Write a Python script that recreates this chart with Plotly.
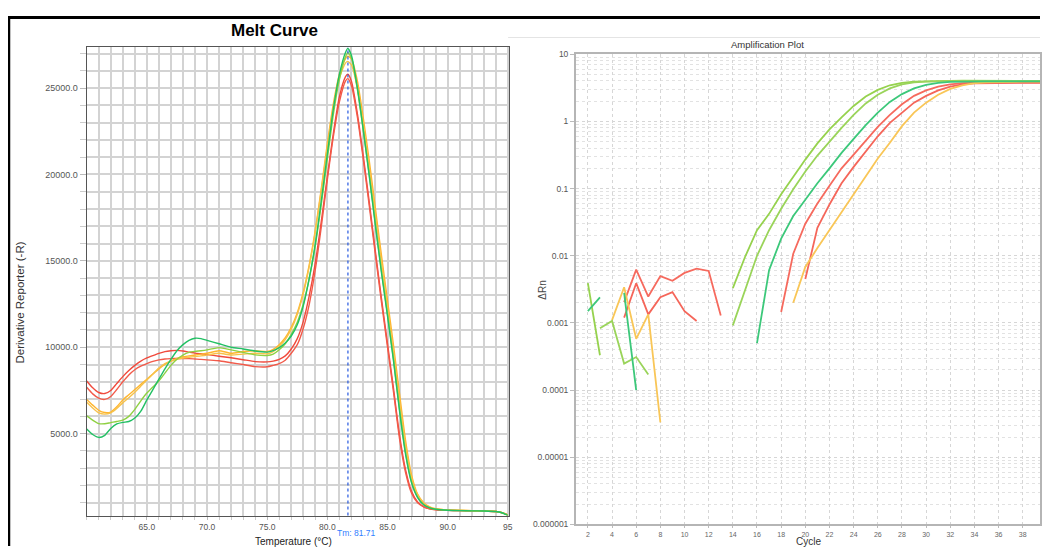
import plotly.graph_objects as go

# the page keeps its 8px body margin, so the figure is sized to fit the window exactly
OFF = 8
W, H = 1052 - 2 * OFF, 559 - 2 * OFF


def px(x):
    return (x - OFF) / W


def py(y):
    return 1 - (y - OFF) / H


# ---- Melt curve data (derivative reporter vs temperature) ----
temps = [60.0, 60.5, 61.0, 61.5, 62.0, 62.5, 63.0, 63.5, 64.0, 64.5,
         65.0, 65.5, 66.0, 66.5, 67.0, 67.5, 68.0, 68.5, 69.0, 69.5,
         70.0, 71.0, 72.0, 73.0, 74.0, 75.0, 75.5, 76.0, 76.5, 77.0,
         77.5, 78.0, 78.5, 79.0, 79.5, 80.0, 80.5, 81.0, 81.5, 81.7,
         82.0, 82.5, 83.0, 83.5, 84.0, 84.5, 85.0, 85.5, 86.0, 86.5,
         87.0, 87.5, 88.0, 88.5, 89.0, 90.0, 91.0, 92.0, 93.0, 94.0,
         94.5, 95.0]

melt_green = [5270, 4950, 4780, 4900, 5300, 5560, 5650, 5700, 5900, 6300,
              6950, 7550, 8150, 8750, 9300, 9800, 10150, 10400, 10520, 10500,
              10400, 10200, 10000, 9900, 9780, 9720, 9800, 9980, 10250, 10650,
              11300, 12400, 14000, 16000, 18500, 21200, 23800, 25800, 27050, 27300,
              26900, 25000, 22500, 19800, 17000, 14300, 11800, 9200, 6300, 3800,
              2150, 1300, 880, 700, 620, 560, 540, 530, 520, 490,
              420, 260]
melt_lime = [6030, 5780, 5580, 5570, 5640, 5700, 5780, 6000, 6400, 6900,
             7350, 7700, 8050, 8500, 8950, 9300, 9550, 9700, 9760, 9800,
             9850, 9980, 9850, 9700, 9560, 9520, 9600, 9850, 10200, 10750,
             11450, 12500, 14000, 15900, 18300, 20900, 23500, 25500, 26800, 27050,
             26750, 24900, 22500, 19900, 17100, 14400, 11900, 9300, 6400, 3900,
             2200, 1330, 900, 710, 630, 570, 550, 535, 520, 490,
             420, 270]
melt_orange1 = [6980, 6650, 6350, 6220, 6250, 6550, 6950, 7250, 7550, 7850,
                8150, 8450, 8750, 9000, 9200, 9350, 9450, 9500, 9550, 9600,
                9650, 9800, 9650, 9750, 9800, 9750, 9880, 10150, 10550, 11150,
                12000, 13200, 14800, 16800, 19200, 21800, 24100, 25800, 26700, 26850,
                26700, 25400, 23200, 20700, 18000, 15300, 12700, 10100, 7300, 4600,
                2600, 1500, 1000, 760, 650, 580, 560, 545, 530, 500,
                430, 280]
melt_orange2 = [6810, 6480, 6200, 6130, 6200, 6450, 6780, 7080, 7400, 7750,
                8100, 8450, 8800, 9050, 9200, 9300, 9380, 9420, 9460, 9500,
                9550, 9650, 9550, 9600, 9650, 9620, 9750, 10050, 10450, 11050,
                11900, 13100, 14700, 16700, 19100, 21600, 23900, 25600, 26450, 26550,
                26350, 25000, 22800, 20300, 17600, 14900, 12300, 9700, 6900, 4300,
                2450, 1450, 960, 740, 640, 575, 555, 540, 525, 495,
                425, 275]
melt_red1 = [8050, 7650, 7380, 7320, 7500, 7900, 8300, 8650, 8950, 9200,
             9380, 9520, 9650, 9750, 9800, 9820, 9780, 9720, 9660, 9620,
             9580, 9480, 9390, 9280, 9170, 9150, 9200, 9300, 9500, 9900,
             10500, 11500, 13000, 14900, 17300, 19900, 22400, 24500, 25650, 25800,
             25400, 23500, 21000, 18300, 15500, 12800, 10200, 7600, 4900, 2900,
             1650, 1050, 780, 650, 600, 560, 545, 535, 525, 495,
             430, 300]
melt_red2 = [7680, 7300, 7050, 6980, 7150, 7550, 8000, 8400, 8700, 8900,
             9050, 9180, 9270, 9320, 9340, 9350, 9350, 9340, 9320, 9300,
             9270, 9220, 9100, 9000, 8880, 8870, 8950, 9050, 9250, 9650,
             10150, 11100, 12500, 14500, 17000, 19700, 22200, 24200, 25400, 25550,
             25150, 23300, 20800, 18100, 15300, 12600, 10000, 7400, 4700, 2750,
             1550, 1000, 760, 640, 590, 555, 540, 530, 520, 490,
             425, 300]
TM = 81.71

# ---- Amplification plot data (delta Rn vs cycle) ----
cycles = list(range(1, 41))
N = None
amp_lime1 = [N, 0.0039, 0.00033, N, N, N, N, N, N, N,
             N, N, N, 0.0033, 0.0095, 0.024, 0.042, 0.082, 0.15, 0.27,
             0.47, 0.76, 1.15, 1.7, 2.35, 2.95, 3.45, 3.75, 3.9, 3.97,
             4.0, 4.02, 4.03, 4.03, 4.03, 4.03, 4.02, 4.02, 4.02, 4.02]
amp_lime2 = [N, N, 0.00083, 0.00107, 0.000248, 0.00031, 0.000171, N, N, N,
             N, N, N, 0.00092, 0.0031, 0.010, 0.024, 0.050, 0.098, 0.18,
             0.31, 0.50, 0.80, 1.25, 1.85, 2.5, 3.1, 3.55, 3.8, 3.92,
             3.98, 4.0, 4.0, 4.0, 4.0, 4.0, 4.0, 4.0, 4.0, 4.0]
amp_green = [N, 0.0015, 0.0024, N, 0.0028, 0.0001, N, N, N, N,
             N, N, N, N, N, 0.0005, 0.0061, 0.018, 0.039, 0.068,
             0.12, 0.20, 0.34, 0.55, 0.88, 1.35, 1.95, 2.55, 3.1, 3.5,
             3.75, 3.88, 3.93, 3.95, 3.95, 3.95, 3.95, 3.95, 3.95, 3.95]
amp_orange = [N, N, N, 0.0011, 0.0034, 0.00058, 0.00134, 0.000033, N, N,
              N, N, N, N, N, N, N, N, 0.002, 0.0068,
              0.013, 0.024, 0.045, 0.085, 0.15, 0.28, 0.48, 0.85, 1.35, 1.9,
              2.5, 3.05, 3.45, 3.7, 3.82, 3.88, 3.9, 3.9, 3.9, 3.9]
amp_red1 = [N, N, N, N, 0.00204, 0.0062, 0.00247, 0.00497, 0.00424, 0.00555,
            0.00643, 0.00594, 0.00129, N, N, N, N, 0.00145, 0.0107, 0.030,
            0.06, 0.11, 0.20, 0.32, 0.52, 0.83, 1.25, 1.8, 2.4, 2.9,
            3.3, 3.55, 3.7, 3.78, 3.8, 3.8, 3.8, 3.8, 3.8, 3.8]
amp_red2 = [N, N, N, N, 0.0012, 0.0039, 0.00134, 0.00242, 0.00288, 0.00149,
            0.00107, N, N, N, N, N, N, N, N, 0.0045,
            0.026, 0.058, 0.12, 0.21, 0.36, 0.60, 0.95, 1.35, 1.9, 2.4,
            2.9, 3.3, 3.55, 3.68, 3.72, 3.74, 3.75, 3.75, 3.75, 3.75]

amp_ticks = [10, 1, 0.1, 0.01, 0.001, 0.0001, 0.00001, 0.000001]
amp_ticktext = ["10", "1", "0.1", "0.01", "0.001", "0.0001", "0.00001", "0.000001"]

FONT = "Liberation Sans, Arial, sans-serif"

fig = go.Figure()

# melt curves
melt_series = [
    (melt_red1, "#f04a3c"), (melt_red2, "#f25a4a"),
    (melt_orange1, "#ffb52e"), (melt_orange2, "#f7c24a"),
    (melt_lime, "#8fd042"), (melt_green, "#22c064"),
]
for vals, col in melt_series:
    fig.add_trace(go.Scatter(x=temps, y=vals, mode="lines", xaxis="x", yaxis="y",
                             line=dict(color=col, width=1.4, shape="spline", smoothing=0.6),
                             showlegend=False, hoverinfo="skip"))

# amplification curves
amp_series = [
    (amp_red1, "#f66a5e"), (amp_red2, "#f5665a"),
    (amp_orange, "#f9c657"), (amp_lime1, "#96d24e"),
    (amp_lime2, "#9ad45a"), (amp_green, "#3cc87a"),
]
for vals, col in amp_series:
    fig.add_trace(go.Scatter(x=cycles, y=vals, mode="lines", xaxis="x2", yaxis="y2",
                             line=dict(color=col, width=1.8), connectgaps=False,
                             showlegend=False, hoverinfo="skip"))

grid = "#d3d3d3"
minor_log = [m * 10 ** e for e in range(-6, 1) for m in range(2, 10)]

# cycle value at the right edge of the window (cycle 2 at x=590, 12.13 px per cycle)
amp_xmax = 2 + (1052 - OFF - 590) / 12.13

fig.update_layout(
    width=W, height=H,
    margin=dict(l=0, r=0, t=0, b=0),
    paper_bgcolor="white", plot_bgcolor="white",
    font=dict(family=FONT, color="#444"),
    xaxis=dict(domain=[px(87), px(511)], range=[60, 95.1],
               tickvals=[65, 70, 75, 80, 85, 90, 95],
               ticktext=["65.0", "70.0", "75.0", "80.0", "85.0", "90.0", "95"],
               tickfont=dict(size=8.5, color="#555"), ticks="outside", ticklen=3,
               ticklabelstandoff=0,
               tickcolor="#bbb", showgrid=True, gridcolor=grid, gridwidth=2,
               minor=dict(tickmode="linear", tick0=60, dtick=1, showgrid=True,
                          gridcolor=grid, gridwidth=2, ticks="outside", ticklen=3,
                          tickcolor="#ccc"),
               showline=True, linecolor="#555", linewidth=1.2, mirror=True,
               zeroline=False, anchor="y"),
    yaxis=dict(domain=[py(520), py(43)], range=[256, 27360],
               tickvals=[5000, 10000, 15000, 20000, 25000], tickformat=".1f",
               tickfont=dict(size=9, color="#555"), ticks="outside", ticklen=6,
               tickcolor="#bbb", showgrid=True, gridcolor=grid, gridwidth=2,
               minor=dict(tickmode="linear", tick0=0, dtick=1000, showgrid=True,
                          gridcolor=grid, gridwidth=2, ticks="outside", ticklen=6,
                          tickcolor="#ccc"),
               showline=True, linecolor="#555", linewidth=1.2, mirror=True,
               zeroline=False, anchor="x"),
    xaxis2=dict(domain=[px(578), 1.0], range=[1.0, amp_xmax],
                tickmode="linear", tick0=2, dtick=2,
                tickfont=dict(size=7, color="#666"), ticks="outside", ticklen=2,
                ticklabelstandoff=0,
                tickcolor="#bbb", showgrid=True, gridcolor="#d6d6d6", griddash="dot",
                gridwidth=1.2, showline=True, linecolor="#b5b5b5", linewidth=1.5,
                mirror=True, zeroline=False, anchor="y2"),
    yaxis2=dict(domain=[py(529), py(50)], type="log", range=[-6, 1],
                tickvals=amp_ticks, ticktext=amp_ticktext,
                tickfont=dict(size=8.5, color="#555"), ticks="outside", ticklen=4,
                tickcolor="#bbb", showgrid=True, gridcolor="#d6d6d6", griddash="dot",
                gridwidth=1.2,
                minor=dict(tickvals=minor_log, showgrid=True, gridcolor="#e2e2e2",
                           griddash="dot", gridwidth=1, ticks=""),
                showline=True, linecolor="#b5b5b5", linewidth=1.5, mirror=True,
                zeroline=False, anchor="x2"),
)

# frame lines and Tm marker
fig.add_shape(type="line", xref="paper", yref="paper", x0=px(8), x1=1, y0=py(12.5),
              y1=py(12.5), line=dict(color="black", width=3))
fig.add_shape(type="line", xref="paper", yref="paper", x0=px(9), x1=px(9), y0=0,
              y1=py(11), line=dict(color="black", width=2.5))
fig.add_shape(type="line", xref="paper", yref="paper", x0=px(510), x1=1, y0=py(33),
              y1=py(33), line=dict(color="#e4e4e4", width=1))
fig.add_shape(type="line", xref="x", yref="y domain", x0=TM, x1=TM, y0=0, y1=1,
              line=dict(color="#2458e0", width=1.2, dash="dot"))

ann = [
    dict(text="<b>Melt Curve</b>", x=px(276), y=py(26), font=dict(size=17, color="black")),
    dict(text="Derivative Reporter (-R)", x=px(20), y=py(303), textangle=-90,
         font=dict(size=11.5, color="#333")),
    dict(text="Temperature (°C)", x=px(295), y=py(546), font=dict(size=10, color="#222")),
    dict(text="Amplification Plot", x=px(770), y=py(40), font=dict(size=9.5, color="#333")),
    dict(text="ΔRn", x=px(545), y=py(290), textangle=-90, font=dict(size=10, color="#444")),
    dict(text="Cycle", x=px(812), y=py(546), font=dict(size=10, color="#333")),
]
for a in ann:
    fig.add_annotation(xref="paper", yref="paper", showarrow=False,
                       xanchor="center", yanchor="middle", **a)
fig.add_annotation(text="Tm: 81.71", x=TM, xref="x", xshift=9, y=py(538), yref="paper",
                   yanchor="middle", showarrow=False, font=dict(size=8.5, color="#2f80ff"))

fig.write_html("out.html")
